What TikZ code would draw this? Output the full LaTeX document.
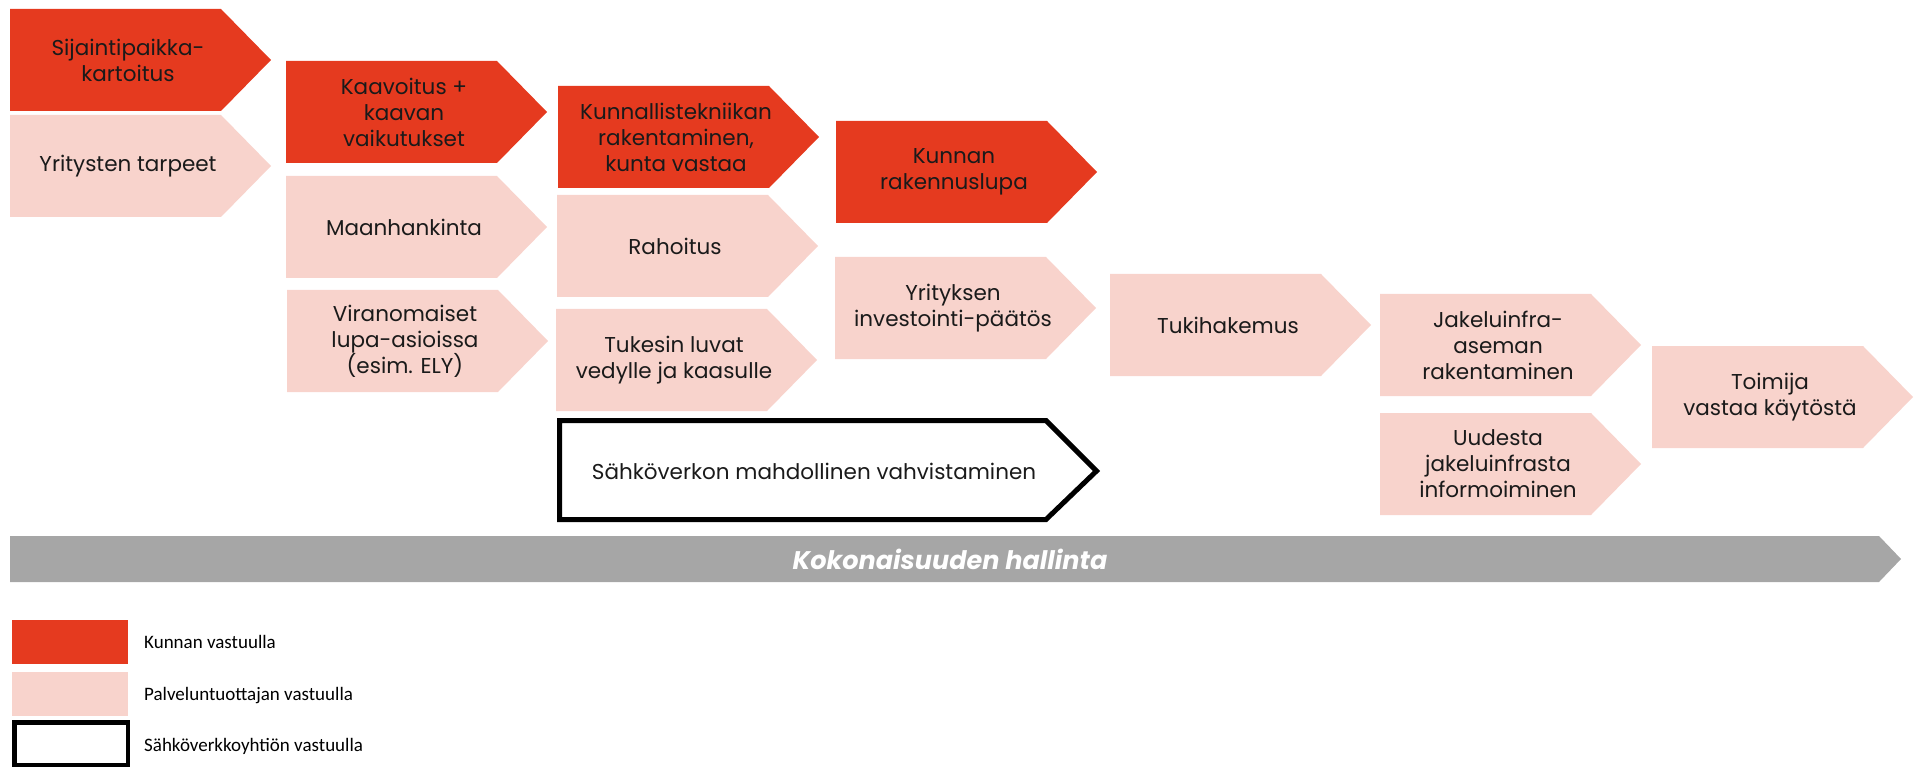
\documentclass[tikz,border=0pt]{standalone}
\usepackage{fontspec}
\setmainfont{Poppins}
\newfontfamily\legfont{Carlito}
\definecolor{kred}{RGB}{229,58,31}
\definecolor{kpink}{RGB}{248,211,204}
\definecolor{kgray}{RGB}{166,166,166}
\definecolor{ktext}{RGB}{26,26,26}
\tikzset{
  redbox/.style={fill=kred},
  pinkbox/.style={fill=kpink},
  txt/.style={align=center, inner sep=0pt, text=ktext, font=\fontsize{21.5}{26}\selectfont},
  legtxt/.style={anchor=west, inner sep=0pt, text=black, font=\legfont\fontsize{19}{22}\selectfont},
}
\newcommand\chevron[5]{%
  \path[#4] (#2,#3) -- ++(211,0) -- ++(50,51) -- ++(-50,51) -- ++(-211,0) -- cycle;
  \node[txt] (#1) at ({#2+118},{#3+51}) {#5};
}
\begin{document}
\begin{tikzpicture}[x=1pt,y=-1pt]
\useasboundingbox (0,0) rectangle (1917,767);
\chevron{n1}{10}{9}{redbox}{Sijaintipaikka-\\kartoitus}
\chevron{n2}{10}{115}{pinkbox}{Yritysten tarpeet}
\chevron{n3}{286}{61}{redbox}{Kaavoitus +\\kaavan\\vaikutukset}
\chevron{n4}{286}{176}{pinkbox}{Maanhankinta}
\chevron{n5}{287}{290}{pinkbox}{Viranomaiset\\lupa-asioissa\\(esim. ELY)}
\chevron{n6}{558}{86}{redbox}{Kunnallistekniikan\\rakentaminen,\\kunta vastaa}
\chevron{n7}{557}{195}{pinkbox}{Rahoitus}
\chevron{n8}{556}{309}{pinkbox}{Tukesin luvat\\vedylle ja kaasulle}
\chevron{n9}{836}{121}{redbox}{Kunnan\\rakennuslupa}
\chevron{n10}{835}{257}{pinkbox}{Yrityksen\\investointi-päätös}
\chevron{n12}{1110}{274}{pinkbox}{Tukihakemus}
\chevron{n13}{1380}{294}{pinkbox}{Jakeluinfra-\\aseman\\rakentaminen}
\chevron{n14}{1380}{413}{pinkbox}{Uudesta\\jakeluinfrasta\\informoiminen}
\chevron{n15}{1652}{346}{pinkbox}{Toimija\\vastaa käytöstä}
% outlined chevron
\draw[line width=5pt, line join=miter] (559.5,420.5) -- (1046,420.5) -- (1096.5,471) -- (1046,519.5) -- (559.5,519.5) -- cycle;
\node[txt] (n11) at (814,471) {Sähköverkon mahdollinen vahvistaminen};
% gray bar
\fill[kgray] (10,536) -- (1879,536) -- (1901,559) -- (1879,582) -- (10,582) -- cycle;
\node[txt, text=white, font=\fontsize{25.5}{28}\selectfont\bfseries\itshape] (bar) at (950,559) {Kokonaisuuden hallinta};
% legend
\fill[kred] (12,620) rectangle (128,664);
\fill[kpink] (12,672) rectangle (128,716);
\draw[line width=4.5pt] (14.25,722.5) rectangle (127.75,764.75);
\node[legtxt] (l1) at (144,642) {Kunnan vastuulla};
\node[legtxt] (l2) at (144,696) {Palveluntuottajan vastuulla};
\node[legtxt] (l3) at (144,746) {Sähköverkkoyhtiön vastuulla};
\end{tikzpicture}
\end{document}
